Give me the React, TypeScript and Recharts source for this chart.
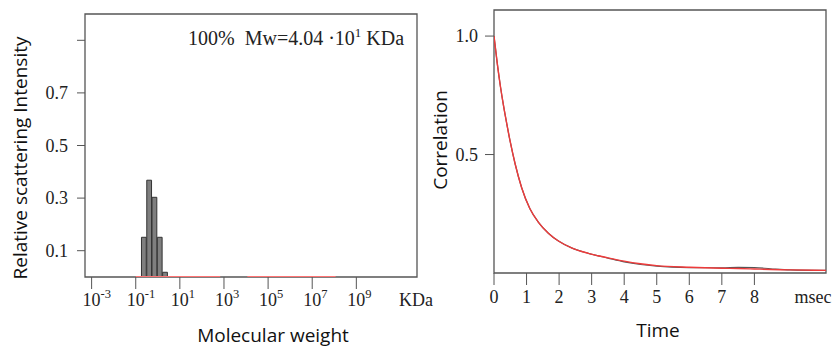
import { ComposedChart, LineChart, Bar, Line, XAxis, YAxis, ReferenceArea } from "recharts";

// size distribution, x = log10(molecular weight / KDa)
const binLogMw = [-0.62, -0.38, -0.14, 0.1, 0.34];
const binIntensity = [0.151, 0.368, 0.303, 0.151, 0.018];
const BIN_WIDTH = 0.24; // decades

// fitted distribution, flat at zero (gap between the two pieces)
const fitLogMw = [-1.0, 2.83, 3.45, 4.06, 8.06];
const fitIntensity = [0, 0, null, 0, 0];

const mwTicks = [-3, -1, 1, 3, 5, 7, 9];
const MW_UNIT_AT = 11.7;
const intensityTicks = [0.1, 0.3, 0.5, 0.7, 0.9];

// correlation function
const timeMs = [0, 0.1, 0.2, 0.3, 0.39, 0.5, 0.65, 0.85, 1.1, 1.36, 1.67, 1.98, 2.4, 2.9, 3.5, 4.0, 4.5, 5.0, 6.0, 7.0, 7.5, 8.0, 8.5, 9.1, 10.2];
const corrMeasured = [1.0, 0.885, 0.785, 0.7, 0.632, 0.553, 0.46, 0.36, 0.272, 0.215, 0.168, 0.135, 0.105, 0.083, 0.063, 0.047, 0.036, 0.029, 0.023, 0.022, 0.024, 0.023, 0.018, 0.013, 0.011];
const corrFit = [1.0, 0.885, 0.785, 0.7, 0.632, 0.553, 0.46, 0.36, 0.272, 0.215, 0.168, 0.135, 0.105, 0.083, 0.064, 0.05, 0.039, 0.031, 0.024, 0.02, 0.019, 0.017, 0.015, 0.013, 0.011];
const timeTicks = [0, 1, 2, 3, 4, 5, 6, 7, 8];
const TIME_UNIT_AT = 9.8;
const corrTicks = [0.5, 1.0];

const SERIF = "'Liberation Serif', 'Times New Roman', serif";
const SANS = "'Open Sans', 'Noto Sans', sans-serif";
const INK = "#222";
const FRAME = "#555";
const RED = "#ee3b3b";

const MW_DOMAIN: [number, number] = [-3.3, 11.75];
const LEFT_PLOT_W = 332;

const histRows = binLogMw.map((x, i) => ({ x, intensity: binIntensity[i] }));
const fitRows = fitLogMw.map((x, i) => ({ x, fit: fitIntensity[i] }));
const corrRows = timeMs.map((t, i) => ({ t, measured: corrMeasured[i], fit: corrFit[i] }));

// eslint-disable-next-line @typescript-eslint/no-explicit-any
const PowerTick = (props: any) => {
  const { x, y, payload } = props;
  const v = payload.value;
  if (v === MW_UNIT_AT) {
    return (
      <text x={x} y={y + 29} textAnchor="middle" fontFamily={SERIF} fontSize={18} fill={INK}>KDa</text>
    );
  }
  return (
    <g>
      <line x1={x} x2={x} y1={y} y2={y + 12} stroke={FRAME} />
      <text x={x} y={y + 29} textAnchor="middle" fontFamily={SERIF} fontSize={18} fill={INK}>10</text>
      <text x={x + 9} y={y + 21} fontFamily={SERIF} fontSize={12.5} fill={INK}>{v}</text>
    </g>
  );
};

// eslint-disable-next-line @typescript-eslint/no-explicit-any
const TimeTick = (props: any) => {
  const { x, y, payload } = props;
  const v = payload.value;
  if (v === TIME_UNIT_AT) {
    return (
      <text x={x} y={y + 30} textAnchor="middle" fontFamily={SERIF} fontSize={18} fill={INK}>msec</text>
    );
  }
  return (
    <g>
      <line x1={x} x2={x} y1={y} y2={y + 12} stroke={FRAME} />
      <text x={x} y={y + 30} textAnchor="middle" fontFamily={SERIF} fontSize={18} fill={INK}>{v}</text>
    </g>
  );
};

const yTick = { fill: INK, fontFamily: SERIF, fontSize: 18 };

export default function App() {
  const barSize = (BIN_WIDTH * LEFT_PLOT_W) / (MW_DOMAIN[1] - MW_DOMAIN[0]);

  return (
    <div style={{ position: "absolute", left: 0, top: 0, width: 837, height: 347, background: "#fff" }}>
      <div style={{ position: "absolute", left: 420, top: 0 }}>
        <LineChart width={417} height={347} data={corrRows} margin={{ top: 10, right: 11, bottom: 0, left: 0 }}>
          <XAxis
            dataKey="t"
            type="number"
            domain={[0, 10.2]}
            ticks={[...timeTicks, TIME_UNIT_AT]}
            interval={0}
            axisLine={false}
            tickLine={false}
            tickSize={0}
            tickMargin={0}
            height={74}
            tick={<TimeTick />}
            allowDataOverflow
          />
          <YAxis
            type="number"
            domain={[0, 1.11]}
            ticks={corrTicks}
            tickFormatter={(v: number) => v.toFixed(1)}
            axisLine={false}
            tickLine={{ stroke: FRAME }}
            tickSize={9}
            tickMargin={7}
            width={74}
            tick={yTick}
            allowDataOverflow
          />
          <ReferenceArea x1={0} x2={10.2} y1={0} y2={1.11} fill="none" stroke={FRAME} strokeWidth={1.3} />
          <Line type="monotone" dataKey="measured" stroke="#555" strokeWidth={1.2} dot={false} isAnimationActive={false} />
          <Line type="monotone" dataKey="fit" stroke={RED} strokeWidth={1.4} dot={false} isAnimationActive={false} />
        </LineChart>
      </div>
      <div style={{ position: "absolute", left: 0, top: 0 }}>
        <ComposedChart width={445} height={347} data={histRows} margin={{ top: 14, right: 28, bottom: 0, left: 0 }}>
          <XAxis
            dataKey="x"
            type="number"
            domain={MW_DOMAIN}
            ticks={[...mwTicks, MW_UNIT_AT]}
            interval={0}
            axisLine={false}
            tickLine={false}
            tickSize={0}
            tickMargin={0}
            height={70}
            tick={<PowerTick />}
            allowDataOverflow
          />
          <YAxis
            type="number"
            domain={[0, 1]}
            ticks={intensityTicks}
            tickFormatter={(v: number) => (v === 0.9 ? "" : v.toFixed(1))}
            axisLine={false}
            tickLine={{ stroke: FRAME }}
            tickSize={8}
            tickMargin={9}
            width={85}
            tick={yTick}
            allowDataOverflow
          />
          <ReferenceArea x1={MW_DOMAIN[0]} x2={MW_DOMAIN[1]} y1={0} y2={1} fill="none" stroke={FRAME} strokeWidth={1.3} />
          <Line
            data={fitRows}
            dataKey="fit"
            stroke="#ff7373"
            strokeWidth={2}
            dot={false}
            connectNulls={false}
            isAnimationActive={false}
          />
          <Bar dataKey="intensity" fill="#7f7f7f" stroke="#333" strokeWidth={1} barSize={barSize} isAnimationActive={false} />
        </ComposedChart>
      </div>
      <svg width={837} height={347} style={{ position: "absolute", left: 0, top: 0, pointerEvents: "none" }}>
        <text x={188} y={45} fontFamily={SERIF} fontSize={20} fill={INK} style={{ whiteSpace: "pre" }}>
          {"100%  Mw=4.04 \u00b710"}
          <tspan dy={-8} fontSize={13}>1</tspan>
          <tspan dy={8}>{" KDa"}</tspan>
        </text>
        <text x={273} y={342} textAnchor="middle" fontFamily={SANS} fontSize={19} fill="#111">Molecular weight</text>
        <text x={27} y={158} textAnchor="middle" fontFamily={SANS} fontSize={19} fill="#111" transform="rotate(-90 27 158)">
          Relative scattering Intensity
        </text>
        <text x={658} y={337} textAnchor="middle" fontFamily={SANS} fontSize={19} fill="#111">Time</text>
        <text x={447} y={140} textAnchor="middle" fontFamily={SANS} fontSize={19} fill="#111" transform="rotate(-90 447 140)">
          Correlation
        </text>
      </svg>
    </div>
  );
}
